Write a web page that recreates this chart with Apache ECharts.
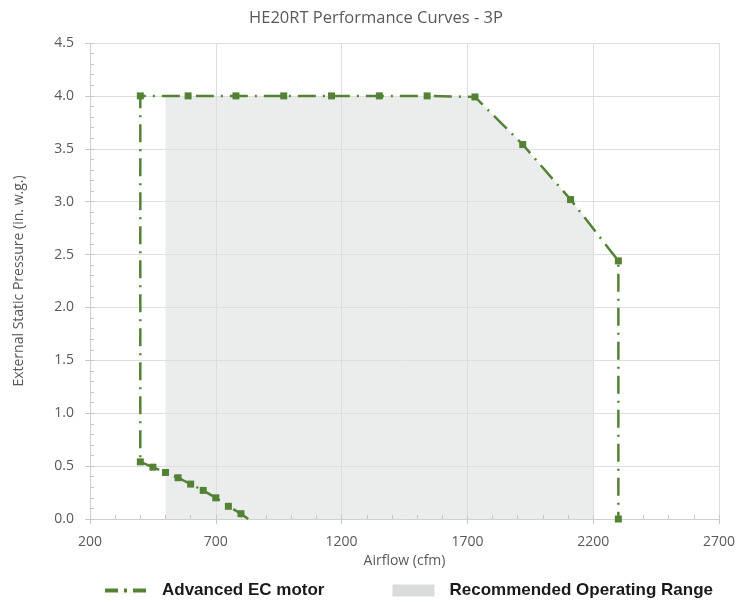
<!DOCTYPE html>
<html>
<head>
<meta charset="utf-8">
<script src="https://cdn.jsdelivr.net/npm/echarts@6/dist/echarts.min.js"></script>
<style>
  html, body { margin: 0; padding: 0; background: #fff; }
  #main { width: 752px; height: 602px; }
</style>
</head>
<body>
<div id="main"></div>
<script>
// data ------------------------------------------------------------
var motorFlow = [829, 800, 750, 700, 650, 600, 550, 500, 450, 400, 400, 590, 780, 970, 1160, 1350, 1540, 1730, 1920, 2110, 2300, 2300];
var motorEsp = [0, 0.05, 0.12, 0.2, 0.27, 0.33, 0.39, 0.44, 0.49, 0.54, 4.0, 4.0, 4.0, 4.0, 4.0, 4.0, 4.0, 3.99, 3.54, 3.02, 2.44, 0];

var rangeFlow = [500, 500, 1730, 1920, 2110, 2200, 2200];
var rangeEsp = [0, 4.0, 3.99, 3.54, 3.02, 2.75, 0];

// x axis starts at 200, ticks every 500 -> axis runs from 0 and labels add the start back
var X_START = 200;
var X_END = 2700;

var green = '#548235';
var labelColor = '#595959';

function pairs(xs, ys) {
    var out = [];
    for (var i = 0; i < xs.length; i++) {
        out.push([xs[i] - X_START, ys[i]]);
    }
    return out;
}

var motorData = pairs(motorFlow, motorEsp);
// no marker where the curve meets the x axis on the left
motorData[0] = {value: motorData[0], symbol: 'none'};

var chart = echarts.init(document.getElementById('main'));

var option = {
    backgroundColor: '#fff',
    title: {
        text: 'HE20RT Performance Curves - 3P',
        left: 'center',
        top: 5,
        textStyle: {
            fontFamily: 'Open Sans',
            fontWeight: 'normal',
            fontSize: 16.5,
            color: labelColor
        }
    },
    legend: {
        left: 103,
        top: 582,
        padding: 0,
        itemWidth: 42,
        itemHeight: 12,
        itemGap: 68,
        textStyle: {
            fontFamily: 'Liberation Sans',
            fontWeight: 'bold',
            fontSize: 17,
            color: '#1a1a1a',
            padding: [0, 0, 0, 10]
        },
        data: [
            {
                name: 'Advanced EC motor',
                itemStyle: {opacity: 0},
                lineStyle: {width: 4, type: [13, 6, 3, 6], color: green}
            },
            {
                name: 'Recommended Operating Range',
                icon: 'rect',
                itemStyle: {color: '#d9dcdb'}
            }
        ]
    },
    grid: {
        left: 90,
        right: 33,
        top: 43,
        bottom: 83
    },
    xAxis: [
        {
            type: 'value',
            min: 0,
            max: X_END - X_START,
            interval: 500,
            z: 1,
            name: 'Airflow (cfm)',
            nameLocation: 'middle',
            nameGap: 32,
            nameTextStyle: {fontFamily: 'Open Sans', fontSize: 14, color: labelColor},
            axisLine: {lineStyle: {color: '#d0d0d0', width: 1}},
            axisTick: {show: true, length: 5, lineStyle: {color: '#c8c8c8'}},
            axisLabel: {
                margin: 16,
                fontFamily: 'Open Sans',
                fontSize: 14,
                color: labelColor,
                formatter: function (v) { return String(v + X_START); }
            },
            splitLine: {show: true, lineStyle: {color: '#dedede', width: 1}}
        },
        {
            // minor ticks, drawn inward
            type: 'value',
            position: 'bottom',
            min: 0,
            max: X_END - X_START,
            interval: 100,
            z: 1,
            axisLine: {show: false},
            axisTick: {show: true, inside: true, length: 4, lineStyle: {color: '#c8c8c8'}},
            axisLabel: {show: false},
            splitLine: {show: false}
        }
    ],
    yAxis: [
        {
            type: 'value',
            min: 0,
            max: 4.5,
            interval: 0.5,
            z: 1,
            name: 'External Static Pressure (in. w.g.)',
            nameLocation: 'middle',
            nameGap: 64,
            nameTextStyle: {fontFamily: 'Open Sans', fontSize: 14, color: labelColor},
            axisLine: {show: true, lineStyle: {color: '#d0d0d0', width: 1}},
            axisTick: {show: true, length: 5, lineStyle: {color: '#c8c8c8'}},
            axisLabel: {
                margin: 16,
                fontFamily: 'Open Sans',
                fontSize: 14,
                color: labelColor,
                formatter: function (v) { return v.toFixed(1); }
            },
            splitLine: {show: true, lineStyle: {color: '#dedede', width: 1}}
        },
        {
            type: 'value',
            position: 'left',
            min: 0,
            max: 4.5,
            interval: 0.1,
            z: 1,
            axisLine: {show: false},
            axisTick: {show: true, inside: true, length: 4, lineStyle: {color: '#c8c8c8'}},
            axisLabel: {show: false},
            splitLine: {show: false}
        }
    ],
    series: [
        {
            name: 'Recommended Operating Range',
            type: 'line',
            z: 0,
            symbol: 'none',
            silent: true,
            data: pairs(rangeFlow, rangeEsp),
            itemStyle: {color: '#d9dcdb'},
            lineStyle: {width: 0},
            areaStyle: {color: '#ebeded', opacity: 1}
        },
        {
            name: 'Advanced EC motor',
            type: 'line',
            z: 3,
            symbol: 'rect',
            symbolSize: 7,
            data: motorData,
            itemStyle: {color: green},
            lineStyle: {width: 2.5, color: green, type: [18, 7, 2, 7]}
        }
    ]
};

chart.setOption(option);
</script>
</body>
</html>
